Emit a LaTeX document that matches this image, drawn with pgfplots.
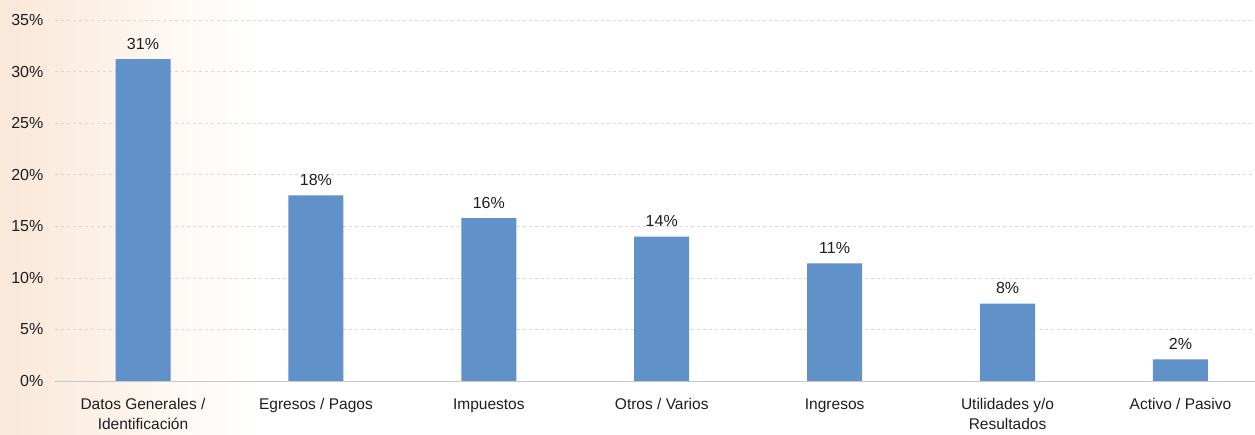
\documentclass[border=0pt]{standalone}
\usepackage{pgfplots}
\pgfplotsset{compat=1.18}
\usepackage{fontspec}
\setmainfont{Liberation Sans}

\definecolor{barblue}{RGB}{96,145,200}
\definecolor{peach}{RGB}{250,232,217}
\definecolor{gridgray}{RGB}{217,217,217}
\definecolor{axisgray}{RGB}{200,200,200}
\definecolor{txt}{RGB}{30,30,30}

% warm tint on the left edge of the page, fading smoothly to white
% (the visible part of a declared shading is its middle, 25bp to 75bp)
\pgfdeclarehorizontalshading{leftfade}{100bp}{%
  color(0bp)=(peach); color(25bp)=(peach); color(40bp)=(peach!75!white);
  color(57bp)=(peach!30!white); color(75bp)=(white); color(100bp)=(white)}

\begin{document}
\begin{tikzpicture}[x=1pt,y=1pt]
  \fill[white] (0,0) rectangle (1255,434);
  \shade[shading=leftfade, shading angle=0] (0,0) rectangle (260,434);

  \begin{axis}[
    at={(143pt,53pt)}, anchor=origin,
    scale only axis,
    width=1200pt, height=361pt,
    xmin=-0.51, xmax=6.43,
    ymin=0, ymax=35,
    axis line style={draw=none},
    axis x line*=bottom,
    axis y line*=left,
    ytick={0,5,...,35},
    yticklabel={\pgfmathprintnumber{\tick}\%},
    /pgf/number format/assume math mode=true,
    ymajorgrids,
    grid style={gridgray, dashed, line width=0.6pt},
    major tick length=0pt,
    xtick=data,
    xticklabels={{Datos Generales /\\Identificación},{Egresos / Pagos},{Impuestos},{Otros / Varios},{Ingresos},{Utilidades y/o\\Resultados},{Activo / Pasivo}},
    xticklabel style={align=center, font=\fontsize{15.5}{20}\selectfont, text=txt, yshift=-14pt},
    yticklabel style={font=\fontsize{16}{19}\selectfont, text=txt, xshift=-8pt},
    ybar, bar width=55pt,
    nodes near coords={\pgfmathprintnumber[fixed,precision=0]{\pgfplotspointmeta}\%},
    nodes near coords style={font=\fontsize{16}{19}\selectfont, text=txt, yshift=6pt,
      /pgf/number format/assume math mode=true},
    clip=false,
  ]
    \addplot[fill=barblue, draw=none] coordinates {
      (0,31.2) (1,18.0) (2,15.8) (3,14.0) (4,11.4) (5,7.5) (6,2.1)
    };
    \draw[axisgray, line width=0.8pt] (axis cs:-0.51,0) -- (axis cs:6.43,0);
  \end{axis}

  \pgfresetboundingbox
  \useasboundingbox (0,0) rectangle (1255,434);
\end{tikzpicture}
\end{document}
